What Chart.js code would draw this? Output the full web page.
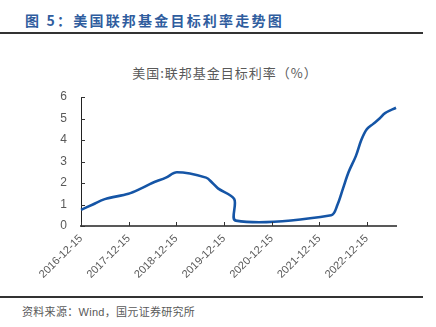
<!DOCTYPE html>
<html>
<head>
<meta charset="utf-8">
<script src="https://cdn.jsdelivr.net/npm/chart.js@4/dist/chart.umd.min.js"></script>
<style>
  body { margin: 0; width: 436px; height: 327px; background: #fff; position: relative; overflow: hidden;
         font-family: "Liberation Sans", "Noto Sans CJK SC", sans-serif; }
  .head { position: absolute; left: 25px; top: 10px; font: bold 14px "Noto Sans CJK SC"; color: #2f5d9e; letter-spacing: 2.2px; }
  .rule { position: absolute; left: 0; width: 423px; height: 2px; background: #333; }
  .ctitle { position: absolute; left: 0; width: 450px; top: 63px; text-align: center; font: 13px "Noto Sans CJK SC"; color: #595959; letter-spacing: 1px; }
  .src { position: absolute; left: 22px; top: 303px; font: 11px "Noto Sans CJK SC"; color: #595959; letter-spacing: 0.3px; }
  #wrap { position: absolute; left: 0; top: 40px; width: 436px; height: 250px; }
</style>
</head>
<body>
<div class="head">图 5：美国联邦基金目标利率走势图</div>
<div class="rule" style="top:32px"></div>
<div class="ctitle">美国:联邦基金目标利率（%）</div>
<div id="wrap"><canvas id="chart"></canvas></div>
<div class="rule" style="top:296px"></div>
<div class="src">资料来源：<span style="font-family:'Liberation Sans'">Wind</span>，国元证券研究所</div>
<script>
// 联邦基金目标利率上限，按调整日期
const dates = ['2016-12-15', '2017-03-16', '2017-06-15', '2017-12-14', '2018-03-22', '2018-06-14',
  '2018-09-27', '2018-12-20', '2019-08-01', '2019-09-19', '2019-10-31', '2020-03-04', '2020-03-16',
  '2022-03-17', '2022-05-05', '2022-06-16', '2022-07-28', '2022-09-22', '2022-11-03', '2022-12-15',
  '2023-02-02', '2023-03-23', '2023-05-04', '2023-07-27'];
const rates = [0.75, 1.0, 1.25, 1.5, 1.75, 2.0, 2.25, 2.5, 2.25, 2.0, 1.75, 1.25, 0.25,
  0.5, 1.0, 1.75, 2.5, 3.25, 4.0, 4.5, 4.75, 5.0, 5.25, 5.5];
const tickLabels = ['2016-12-15', '2017-12-15', '2018-12-15', '2019-12-15', '2020-12-15', '2021-12-15', '2022-12-15'];
const yTicks = [0, 1, 2, 3, 4, 5, 6];

const toDay = (s) => Date.parse(s + 'T00:00:00Z') / 86400000;
const fmt = (d) => new Date(d * 86400000).toISOString().slice(0, 10);

const points = dates.map((d, i) => ({ x: toDay(d), y: rates[i] }));

// ticks drawn inward, like the original
const innerTicks = {
  id: 'innerTicks',
  afterDraw(chart) {
    const ctx = chart.ctx, xs = chart.scales.x, ys = chart.scales.y;
    ctx.save();
    ctx.strokeStyle = '#333';
    ctx.lineWidth = 1;
    ctx.beginPath();
    xs.ticks.forEach(t => {
      const px = Math.round(xs.getPixelForValue(t.value)) + 0.5;
      ctx.moveTo(px, xs.top); ctx.lineTo(px, xs.top - 4);
    });
    ys.ticks.forEach(t => {
      const py = Math.round(ys.getPixelForValue(t.value)) + 0.5;
      ctx.moveTo(ys.right, py); ctx.lineTo(ys.right + 4, py);
    });
    ctx.stroke();
    ctx.restore();
  }
};

new Chart(document.getElementById('chart'), {
  type: 'line',
  data: {
    datasets: [{
      data: points,
      borderColor: '#1555a6',
      borderWidth: 2.6,
      pointRadius: 0,
      tension: 0.32,
      fill: false,
      clip: false
    }]
  },
  options: {
    responsive: true,
    maintainAspectRatio: false,
    animation: false,
    layout: { padding: { top: 57, right: 40, left: 0, bottom: 0 } },
    plugins: { legend: { display: false }, tooltip: { enabled: false } },
    scales: {
      x: {
        type: 'linear',
        min: toDay(dates[0]),
        max: toDay(dates[dates.length - 1]),
        afterFit(s) { s.height = 64; },
        afterBuildTicks(s) { s.ticks = tickLabels.map(l => ({ value: toDay(l) })); },
        grid: { drawOnChartArea: false, drawTicks: false },
        border: { color: '#595959', width: 2 },
        ticks: {
          autoSkip: false,
          minRotation: 45,
          maxRotation: 45,
          padding: 6,
          color: '#595959',
          font: { family: 'Liberation Sans', size: 11 },
          callback: (v) => fmt(v)
        }
      },
      y: {
        min: 0,
        max: 6,
        afterFit(s) { s.width = 81; },
        afterBuildTicks(s) { s.ticks = yTicks.map(v => ({ value: v })); },
        grid: { drawOnChartArea: false, drawTicks: false },
        border: { color: '#222', width: 1 },
        ticks: {
          padding: 14,
          color: '#595959',
          font: { family: 'Liberation Sans', size: 12 }
        }
      }
    }
  },
  plugins: [innerTicks]
});
</script>
</body>
</html>
